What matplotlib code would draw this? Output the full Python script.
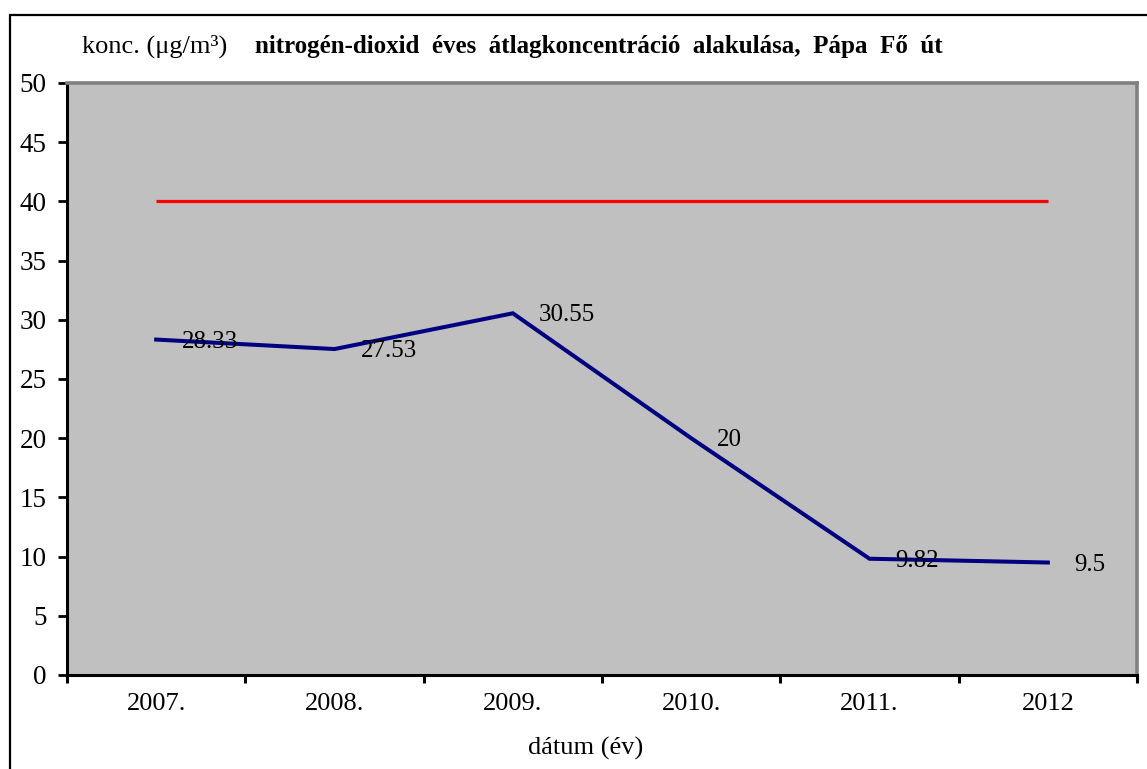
import matplotlib
matplotlib.use("Agg")
import matplotlib.pyplot as plt
import matplotlib.ticker as ticker
from matplotlib.patches import Rectangle

# data
years = ["2007.", "2008.", "2009.", "2010.", "2011.", "2012"]
no2 = [28.33, 27.53, 30.55, 20, 9.82, 9.5]
limit = [40, 40, 40, 40, 40, 40]
value_labels = ["28.33", "27.53", "30.55", "20", "9.82", "9.5"]

plt.rcParams['font.family'] = ['Liberation Serif', 'DejaVu Serif']

fig = plt.figure(figsize=(11.47, 7.69), dpi=100)
W, H = 1147, 769
ax = fig.add_axes([67 / W, 1 - 675 / H, 1070 / W, 592 / H])
ax.set_facecolor('#c0c0c0')

x = list(range(len(years)))
ax.plot(x, limit, color='#ff0000', lw=2.3, solid_capstyle='butt')
ax.plot(x, no2, color='#000080', lw=2.9, solid_joinstyle='miter')

for xi, yi, lab in zip(x, no2, value_labels):
    ax.annotate(lab, (xi, yi), xytext=(26, -2), textcoords='offset pixels',
                ha='left', va='center', fontsize=18)

ax.set_xlim(-0.5, len(years) - 0.5)
ax.set_ylim(0, 50)
ax.yaxis.set_major_locator(ticker.MultipleLocator(5))
ax.set_xticks(x)
ax.set_xticklabels(years, fontsize=19)
ax.xaxis.set_minor_locator(ticker.FixedLocator([i - 0.5 for i in range(len(years) + 1)]))
ax.tick_params(axis='x', which='major', length=0, pad=13)
ax.tick_params(axis='x', which='minor', length=6, width=2.2, direction='out')
ax.tick_params(axis='y', length=6.5, width=2, direction='out', labelsize=19.5, pad=8)

for s in ['left', 'bottom']:
    ax.spines[s].set_color('black')
    ax.spines[s].set_linewidth(2.2)
for s in ['top', 'right']:
    ax.spines[s].set_color('#808080')
    ax.spines[s].set_linewidth(2.6)

# axis title sits a bit left of centre, as in the original
fig.text(586 / W, 1 - 748 / H, 'dátum (év)', fontsize=19, ha='center', va='center')

# outer chart border, runs off the right and bottom edges
fig.patches.append(Rectangle((10 / W, -0.1), 1.2, 1 - 15 / H + 0.1,
                             transform=fig.transFigure, fill=False,
                             edgecolor='black', lw=1.6))

fig.text(82 / W, 1 - 46 / H, 'konc. (μg/m³)', fontsize=19, va='center', ha='left')
fig.text(255 / W, 1 - 46 / H,
         'nitrogén-dioxid  éves  átlagkoncentráció  alakulása,  Pápa  Fő  út',
         fontsize=18, fontweight='bold', va='center', ha='left')

fig.savefig('out.png', dpi=100)
